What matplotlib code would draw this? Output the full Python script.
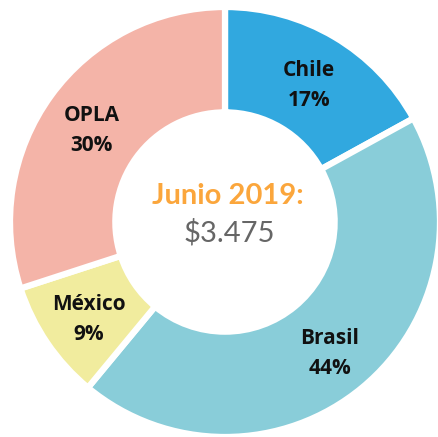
import matplotlib
matplotlib.use("Agg")
import matplotlib.pyplot as plt
import numpy as np

countries = ["Chile", "Brasil", "México", "OPLA"]
shares = [17, 44, 9, 30]
colors = ["#31A8DF", "#89CDD9", "#F1EC9E", "#F4B4A8"]
title_text = "Junio 2019:"
total_text = "$3.475"

W, H = 438, 437
fig = plt.figure(figsize=(W / 100, H / 100), dpi=100)
ax = fig.add_axes([0, 0, 1, 1])

cx, cy = 225, H - 222
R = 215
ring = 0.49

wedges, _ = ax.pie(shares, colors=colors, startangle=90, counterclock=False,
                   radius=R, center=(cx, cy), frame=True,
                   wedgeprops=dict(width=R * ring, edgecolor="white", linewidth=4.5))
ax.set_xlim(0, W)
ax.set_ylim(0, H)
ax.set_aspect("equal")
ax.axis("off")

# labels at the middle of each wedge
for w, name, s in zip(wedges, countries, shares):
    mid = np.deg2rad((w.theta1 + w.theta2) / 2)
    r = R * 0.765
    ax.text(cx + r * np.cos(mid), cy + r * np.sin(mid) - 5, f"{name}\n{s}%",
            ha="center", va="center", fontsize=15, fontweight="bold",
            family="Open Sans", color="#111111", linespacing=1.55)

ax.text(228, H - 196, title_text, ha="center", va="center", fontsize=21,
        fontweight="bold", family="Lato", color="#FBA63C")
ax.text(229, H - 233, total_text, ha="center", va="center", fontsize=21,
        fontweight="normal", family="Lato", color="#666666")

fig.savefig("out.png", dpi=100)
